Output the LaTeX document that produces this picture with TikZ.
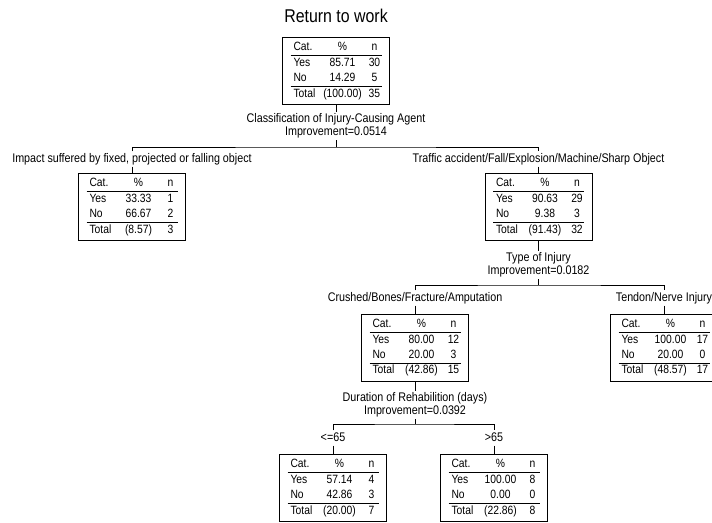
\documentclass[tikz,border=0pt]{standalone}
\usepackage{fontspec}
\setmainfont{Liberation Sans}[FakeStretch=0.86]
\usepackage{array}
\usepackage{tikz}
\setlength{\arrayrulewidth}{0.8pt}
% the category table inside every box
\newcommand{\mytab}[6]{%
\begin{tabular}{@{\hspace{3pt}}p{24pt}@{}>{\centering\arraybackslash}p{50pt}@{}>{\centering\arraybackslash}p{14pt}@{}}
Cat. & \% & n\\\hline
Yes & #1 & #2\\
No & #3 & #4\\\hline
Total & #5 & #6
\end{tabular}}
\tikzset{
  catbox/.style={draw,inner xsep=8pt,inner ysep=2.7pt,font=\fontsize{12}{15}\selectfont},
  brlabel/.style={inner sep=1.5pt,font=\fontsize{12.5}{13.5}\selectfont,text height=9pt,text depth=2.5pt},
  splitlabel/.style={inner sep=1.5pt,align=center,font=\fontsize{12.5}{13.5}\selectfont}
}

\begin{document}
\begin{tikzpicture}[x=1pt,y=-1pt,line width=0.8pt]
\useasboundingbox (0,0) rectangle (712,522);
% the title
\node[font=\fontsize{18.5}{20}\selectfont] (title) at (336,16) {Return to work};
% the root and its split
\node[catbox] (n0) at (336,71) {\mytab{85.71}{30}{14.29}{5}{(100.00)}{35}};
\node[splitlabel] (s0) at (336,126) {Classification of Injury-Causing Agent\\Improvement=0.0514};
\coordinate (j0) at (336,147);
\draw (n0.south) -- (s0.north);
\draw (s0.south) -- (j0);
% first level
\node[brlabel] (b1) at (132,159) {Impact suffered by fixed, projected or falling object};
\node[brlabel] (b2) at (538.5,159) {Traffic accident/Fall/Explosion/Machine/Sharp Object};
\node[catbox] (n1) at (132,207) {\mytab{33.33}{1}{66.67}{2}{(8.57)}{3}};
\node[catbox] (n2) at (538.5,207) {\mytab{90.63}{29}{9.38}{3}{(91.43)}{32}};
\draw (b1.north) |- (j0) -| (b2.north);
\draw (b1.south) -- (n1.north);
\draw (b2.south) -- (n2.north);
% split of the traffic node
\node[splitlabel] (s2) at (538.5,265) {Type of Injury\\Improvement=0.0182};
\coordinate (j2) at (538.5,285);
\draw (n2.south) -- (s2.north);
\draw (s2.south) -- (j2);
% second level
\node[brlabel] (b3) at (415,298) {Crushed/Bones/Fracture/Amputation};
\node[brlabel] (b4) at (664,298) {Tendon/Nerve Injury};
\node[catbox] (n3) at (415,347.5) {\mytab{80.00}{12}{20.00}{3}{(42.86)}{15}};
\node[catbox] (n4) at (664,347.5) {\mytab{100.00}{17}{20.00}{0}{(48.57)}{17}};
\draw (b3.north) |- (j2) -| (b4.north);
\draw (b3.south) -- (n3.north);
\draw (b4.south) -- (n4.north);
% split of the crushed node
\node[splitlabel] (s3) at (415,405) {Duration of Rehabilition (days)\\Improvement=0.0392};
\coordinate (j3) at (415,424);
\draw (n3.south) -- (s3.north);
\draw (s3.south) -- (j3);
% third level
\node[brlabel] (b5) at (333,438) {<=65};
\node[brlabel] (b6) at (494,438) {>65};
\node[catbox] (n5) at (333,488) {\mytab{57.14}{4}{42.86}{3}{(20.00)}{7}};
\node[catbox] (n6) at (494,488) {\mytab{100.00}{8}{0.00}{0}{(22.86)}{8}};
\draw (b5.north) |- (j3) -| (b6.north);
\draw (b5.south) -- (n5.north);
\draw (b6.south) -- (n6.north);
\end{tikzpicture}
\end{document}
